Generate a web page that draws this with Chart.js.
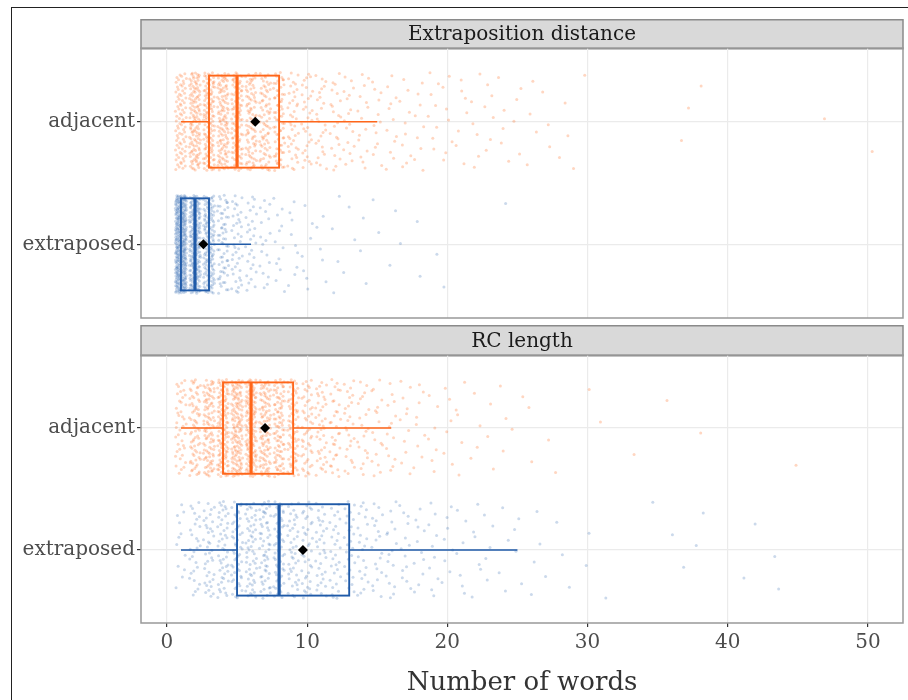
<!DOCTYPE html>
<html>
<head>
<meta charset="utf-8">
<script src="https://cdn.jsdelivr.net/npm/chart.js@4.4.0/dist/chart.umd.min.js"></script>
<style>
  html, body { margin: 0; padding: 0; background: #fff; }
  #wrap { position: relative; width: 908px; height: 700px; overflow: hidden; }
  #frame { position: absolute; left: 11px; top: 7px; width: 1000px; height: 800px; border: 1.5px solid #222; }
  canvas { position: absolute; left: 0; }
</style>
</head>
<body>
<div id="wrap">
  <div id="frame"></div>
  <canvas id="panelTop" width="908" height="304" style="top:19px"></canvas>
  <canvas id="panelBottom" width="908" height="375" style="top:325px"></canvas>
</div>
<script>
const facets = ["Extraposition distance", "RC length"];
const groups = ["adjacent", "extraposed"];
const xTicks = [0, 10, 20, 30, 40, 50];

// how many clauses have 1, 2, 3, ... words (index 0 = 1 word)
const distAdjacentCounts = [80, 125, 125, 115, 100, 85, 75, 70, 40, 32, 26, 22, 18, 15, 12, 12, 10, 9, 8, 7,
  7, 6, 6, 5, 4, 4, 3, 2, 2, 1, 0, 0, 0, 0, 0, 0, 2, 1, 0, 0, 0, 0, 0, 0, 0, 0, 1, 0, 0, 1];
const distExtraposedCounts = [360, 200, 150, 60, 40, 28, 18, 12, 9, 7, 5, 4, 3, 3, 2, 2, 1, 2, 1, 1,
  0, 0, 0, 1];
const rcAdjacentCounts = [40, 70, 100, 125, 135, 130, 105, 90, 75, 50, 40, 32, 26, 21, 17, 14, 11, 9, 7, 6,
  5, 4, 3, 3, 2, 2, 1, 1, 0, 1, 1, 0, 1, 0, 0, 1, 0, 1, 0, 0, 0, 0, 0, 0, 1];
const rcExtraposedCounts = [12, 28, 38, 48, 52, 55, 55, 55, 42, 38, 33, 29, 26, 22, 19, 16, 13, 11, 10, 8,
  7, 6, 5, 4, 4, 3, 2, 2, 1, 2, 1, 0, 0, 0, 1, 1, 1, 2, 0, 0, 1, 1, 1, 1];

// box statistics: [lower whisker, Q1, median, Q3, upper whisker]
const distAdjacentBox = [1, 3, 5, 8, 15];
const distExtraposedBox = [1, 1, 2, 3, 6];
const rcAdjacentBox = [1, 4, 6, 9, 16];
const rcExtraposedBox = [1, 5, 8, 13, 25];
const distMeans = [6.3, 2.6];
const rcMeans = [7.0, 9.7];

const orange = "#ff661a";
const blue = "#1f5aa8";

function halton(i, b) {
  let f = 1, r = 0;
  while (i > 0) { f /= b; r += f * (i % b); i = Math.floor(i / b); }
  return r;
}

// spread each count around its word value (like geom_jitter, but deterministic)
function jitterPoints(counts, yv) {
  const pts = [];
  let k = 1;
  counts.forEach((c, i) => {
    for (let j = 0; j < c; j++, k++) {
      pts.push({ x: i + 1 + (halton(k, 2) - 0.5) * 0.8, y: yv + (halton(k, 3) - 0.5) * 0.8 });
    }
  });
  return pts;
}

const serif = "'DejaVu Serif', serif";

const panelPlugin = {
  id: "panel",
  beforeDraw(chart, args, opts) {
    const { ctx, chartArea: a } = chart;
    const h = opts.stripHeight;
    ctx.save();
    ctx.fillStyle = "#d9d9d9";
    ctx.fillRect(a.left, a.top - h, a.right - a.left, h);
    ctx.strokeStyle = "#8a8a8a";
    ctx.lineWidth = 1.5;
    ctx.strokeRect(a.left, a.top - h + 0.75, a.right - a.left, h);
    ctx.fillStyle = "#1a1a1a";
    ctx.font = "20px " + serif;
    ctx.textAlign = "center";
    ctx.textBaseline = "middle";
    ctx.fillText(opts.text, (a.left + a.right) / 2, a.top - h / 2 + 1.5);
    ctx.restore();
  },
  afterDatasetDraw(chart, args, opts) {
    if (args.index !== 0) return;
    const { ctx } = chart;
    const xs = chart.scales.x, ys = chart.scales.y;
    opts.boxes.forEach((b, i) => {
      const yv = i + 1;
      const px = v => xs.getPixelForValue(v);
      const yTop = ys.getPixelForValue(yv - 0.375);
      const yBot = ys.getPixelForValue(yv + 0.375);
      const yMid = ys.getPixelForValue(yv);
      ctx.save();
      ctx.strokeStyle = opts.colors[i];
      ctx.lineWidth = 1.5;
      ctx.beginPath();
      ctx.moveTo(px(b[0]), yMid); ctx.lineTo(px(b[1]), yMid);
      ctx.moveTo(px(b[3]), yMid); ctx.lineTo(px(b[4]), yMid);
      ctx.stroke();
      ctx.lineWidth = 1.9;
      ctx.strokeRect(px(b[1]), yTop, px(b[3]) - px(b[1]), yBot - yTop);
      ctx.lineWidth = 3.2;
      ctx.beginPath();
      ctx.moveTo(px(b[2]), yTop); ctx.lineTo(px(b[2]), yBot);
      ctx.stroke();
      ctx.restore();
    });
  },
  afterDraw(chart) {
    const { ctx, chartArea: a } = chart;
    ctx.save();
    ctx.strokeStyle = "#999";
    ctx.lineWidth = 1.5;
    ctx.strokeRect(a.left, a.top, a.right - a.left, a.bottom - a.top);
    ctx.restore();
  }
};

function makePanel(id, title, counts, boxes, means, bottom) {
  const xAxis = {
    type: "linear", min: -1.85, max: 52.5,
    afterBuildTicks: s => { s.ticks = xTicks.map(v => ({ value: v })); },
    grid: { color: "#ebebeb", lineWidth: 1.2, tickLength: 4, tickColor: "#333", drawTicks: bottom },
    border: { display: false },
    ticks: { display: bottom, font: { family: serif, size: 20 }, color: "#4d4d4d", padding: 4, maxRotation: 0 },
    afterFit: s => { s.height = bottom ? 77 : 0; }
  };
  if (bottom) {
    xAxis.title = { display: true, text: "Number of words", font: { family: serif, size: 26 },
      color: "#333", padding: { top: 0, bottom: 1 } };
  }
  return new Chart(document.getElementById(id), {
    type: "scatter",
    data: {
      datasets: [
        { data: jitterPoints(counts[0], 1), pointRadius: 1.5, borderWidth: 0,
          backgroundColor: "rgba(255,102,26,0.27)" },
        { data: jitterPoints(counts[1], 2), pointRadius: 1.5, borderWidth: 0,
          backgroundColor: "rgba(31,90,168,0.23)" },
        { data: means.map((m, i) => ({ x: m, y: i + 1 })), pointStyle: "rectRot", pointRadius: 5,
          borderWidth: 0, backgroundColor: "#000", order: -1 }
      ]
    },
    options: {
      responsive: false,
      devicePixelRatio: 1,
      animation: false,
      events: [],
      layout: { padding: { top: bottom ? 30 : 29, bottom: bottom ? 0 : 2, left: 0, right: 2 } },
      plugins: {
        legend: { display: false },
        tooltip: { enabled: false },
        panel: { text: title, stripHeight: bottom ? 30 : 29, boxes: boxes, colors: [orange, blue] }
      },
      scales: {
        x: xAxis,
        y: {
          type: "linear", min: 0.4, max: 2.6, reverse: true,
          afterBuildTicks: s => { s.ticks = [{ value: 1 }, { value: 2 }]; },
          afterFit: s => { s.width = 141; s.paddingTop = 0; s.paddingBottom = 0; },
          ticks: { callback: v => groups[v - 1], font: { family: serif, size: 20 }, color: "#4d4d4d", padding: 2 },
          grid: { color: "#ebebeb", lineWidth: 1.2, tickLength: 4, tickColor: "#333" },
          border: { display: false }
        }
      }
    },
    plugins: [panelPlugin]
  });
}

makePanel("panelTop", facets[0], [distAdjacentCounts, distExtraposedCounts],
  [distAdjacentBox, distExtraposedBox], distMeans, false);
makePanel("panelBottom", facets[1], [rcAdjacentCounts, rcExtraposedCounts],
  [rcAdjacentBox, rcExtraposedBox], rcMeans, true);
</script>
</body>
</html>
